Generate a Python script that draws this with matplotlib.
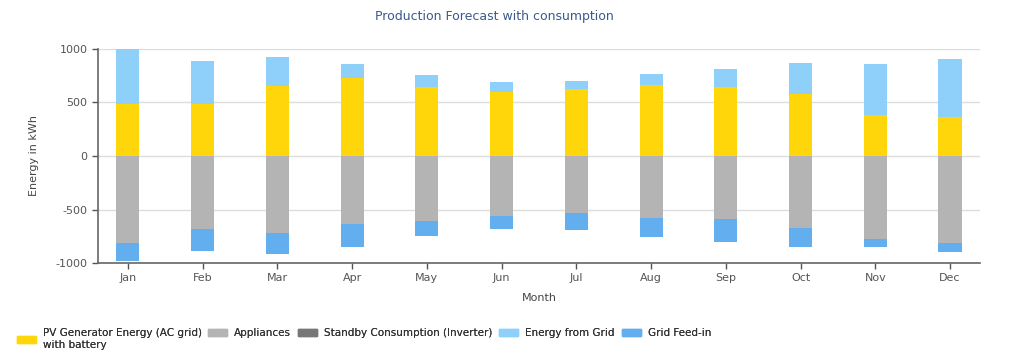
import matplotlib
matplotlib.use('Agg')
import matplotlib.pyplot as plt
import numpy as np
from matplotlib.patches import Patch

plt.rcParams['axes.unicode_minus'] = False

months = ['Jan', 'Feb', 'Mar', 'Apr', 'May', 'Jun', 'Jul', 'Aug', 'Sep', 'Oct', 'Nov', 'Dec']
# production side (positive)
pv_energy = [490, 490, 650, 725, 640, 595, 625, 660, 640, 575, 380, 360]
from_grid = [510, 395, 275, 135, 115, 95, 75, 105, 170, 290, 480, 545]
# consumption side (negative)
appliances = [-815, -685, -720, -640, -605, -560, -530, -575, -590, -675, -780, -815]
standby = [0, 0, 0, 0, 0, 0, 0, 0, 0, 0, 0, 0]
feed_in = [-165, -200, -195, -215, -140, -125, -160, -185, -210, -180, -75, -85]

c_pv = '#FFD60A'
c_app = '#B4B4B4'
c_standby = '#777777'
c_grid = '#8ED0FA'
c_feed = '#62AEEE'

fig = plt.figure(figsize=(10.24, 3.6), dpi=100)
ax = fig.add_axes([0.0957, 0.2694, 0.8613, 0.5946])

x = np.arange(len(months))
w = 0.31
ax.bar(x, pv_energy, w, color=c_pv, zorder=3)
ax.bar(x, from_grid, w, bottom=pv_energy, color=c_grid, zorder=3)
ax.bar(x, appliances, w, color=c_app, zorder=3)
neg = np.array(appliances) + np.array(standby)
ax.bar(x, standby, w, bottom=appliances, color=c_standby, zorder=3)
ax.bar(x, feed_in, w, bottom=neg, color=c_feed, zorder=3)

ax.set_xlim(-0.4, 11.4)
ax.set_ylim(-1000, 1000)
ax.set_yticks([-1000, -500, 0, 500, 1000])
ax.set_xticks(x)
ax.set_xticklabels(months)
ax.tick_params(labelsize=8, colors='#555555', length=4, width=1)
ax.yaxis.grid(True, color='#DDDDDD', lw=1, zorder=0)
for s in ['top', 'right']:
    ax.spines[s].set_visible(False)
for s in ['left', 'bottom']:
    ax.spines[s].set_color('#666666')
    ax.spines[s].set_linewidth(1.2)

ax.set_ylabel('Energy in kWh', fontsize=8, color='#444444', labelpad=12)
ax.set_xlabel('Month', fontsize=8, color='#444444', labelpad=7)
fig.text(0.483, 0.953, 'Production Forecast with consumption', ha='center', va='center',
         fontsize=9, color='#3A5A8C')

# legend: one small legend per entry, placed like the original chart
leg_colors = [c_pv, c_app, c_standby, c_grid, c_feed]
leg_labels = ['PV Generator Energy (AC grid)\nwith battery', 'Appliances',
              'Standby Consumption (Inverter)', 'Energy from Grid', 'Grid Feed-in']
leg_x = [12, 203, 293, 494, 617]
for col, lab, px in zip(leg_colors, leg_labels, leg_x):
    leg = fig.legend([Patch(color=col)], [lab], loc='upper left',
                     bbox_to_anchor=(px / 1024, 1 - 323 / 360), frameon=False,
                     fontsize=7.5, handlelength=1.8, handleheight=0.7,
                     handletextpad=0.65, borderpad=0, labelcolor='#333333')
    fig.add_artist(leg)

fig.savefig('out.png', dpi=100)
